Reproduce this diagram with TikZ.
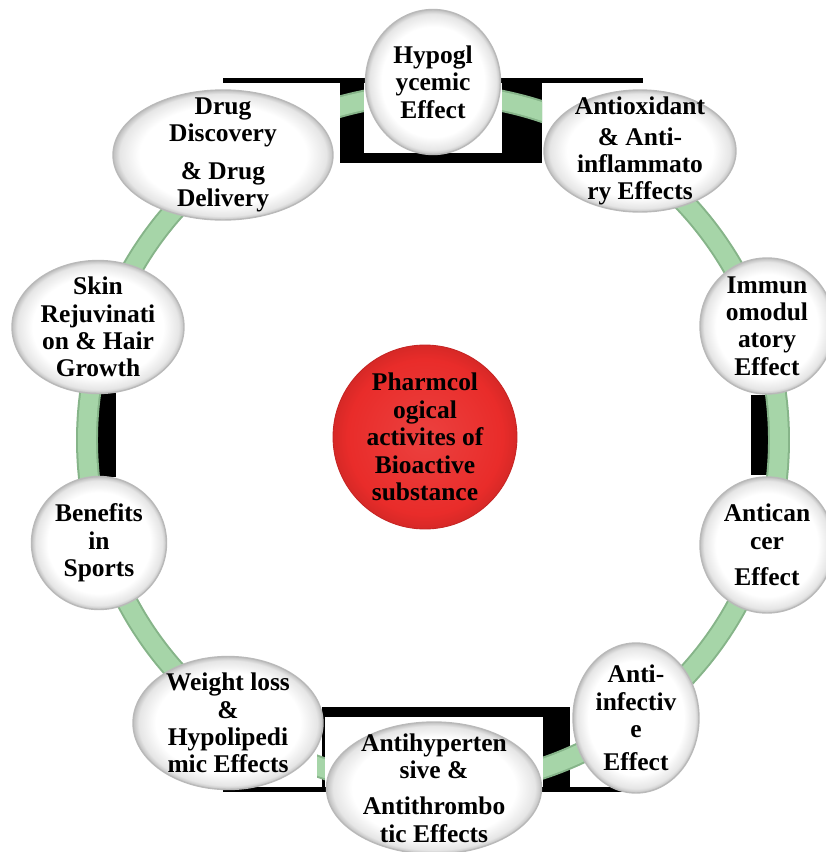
\documentclass[tikz,border=0pt]{standalone}
\usepackage{xcolor}
\usepackage{fontspec}
\setmainfont{Liberation Serif}
\usepackage{tikz}
\usetikzlibrary{shapes.geometric}
\definecolor{ringgreen}{HTML}{A6D5A8}
\definecolor{ringedge}{HTML}{86B489}
\definecolor{hubred}{HTML}{E92C2A}
\pgfdeclareradialshading{bubble}{\pgfpoint{0bp}{0bp}}{color(0bp)=(white); color(19bp)=(white); color(23.5bp)=(gray!20); color(25bp)=(gray!50); color(50bp)=(gray!50)}
\pgfdeclareradialshading{hub}{\pgfpoint{0bp}{0bp}}{color(0bp)=(hubred!90!white); color(21bp)=(hubred); color(25bp)=(hubred!92!black); color(50bp)=(hubred!92!black)}

\begin{document}
\begin{tikzpicture}[x=0.02cm,y=-0.02cm,inner sep=0pt,
  bubble/.style={ellipse,draw=gray!55,line width=0.8pt,shading=bubble,inner xsep=-0.9cm,inner ysep=-0.6cm,align=center,font=\fontsize{14.5}{15.6}\selectfont\bfseries},
  hub/.style={circle,draw=hubred!85!black,line width=0.5pt,shading=hub,align=center,font=\fontsize{14.5}{15.6}\selectfont\bfseries}]
\useasboundingbox (0,0) rectangle (825,852);

\fill (223,78) rectangle (643,83);
\fill (340,78) rectangle (542,163);
\fill (223,787) rectangle (643,792);
\fill (322,707) rectangle (570,792);
\fill (98,393) rectangle (116,477);
\fill (751,395) rectangle (768,475);

\begin{scope}
\clip (340,0) rectangle (542,200) (0,180) rectangle (825,700) (0,700) rectangle (280,852) (317,700) rectangle (825,852);
\draw[ringedge,line width=12.5pt] (433,440) circle[radius=346];
\draw[ringgreen,line width=10.2pt] (433,440) circle[radius=346];
\end{scope}

\fill[white] (364,83) rectangle (502,153);
\fill[white] (325,717) rectangle (543,787);

\node[hub,minimum size=3.68cm] (Hub) at (425,437) {Pharmcol\\ogical\\activites of\\Bioactive\\substance};

\node[bubble,minimum width=2.7cm,minimum height=2.9cm] (Hypo) at (433,82) {Hypogl\\ycemic\\Effect};
\node[bubble,minimum width=3.84cm,minimum height=2.44cm] (Antiox) at (640,151) {Antioxidant\\[2pt]\& Anti-\\inflammato\\ry Effects};
\node[bubble,minimum width=2.68cm,minimum height=2.72cm] (Immuno) at (767,326) {Immun\\omodul\\atory\\Effect};
\node[bubble,minimum width=2.68cm,minimum height=2.72cm] (Cancer) at (767,545) {Antican\\cer\\[5pt]Effect};
\node[bubble,minimum width=2.52cm,minimum height=3cm] (Infect) at (636,718) {Anti-\\infectiv\\e\\[3pt]Effect};
\node[bubble,minimum width=4.3cm,minimum height=2.64cm] (Hyper) at (434,788) {Antihyperten\\sive \&\\[5pt]Antithrombo\\tic Effects};
\node[bubble,minimum width=3.8cm,minimum height=2.66cm] (Weight) at (228,723) {Weight loss\\\&\\Hypolipedi\\mic Effects};
\node[bubble,minimum width=2.7cm,minimum height=2.66cm] (Sports) at (99,543) {Benefits\\in\\Sports};
\node[bubble,minimum width=3.44cm,minimum height=2.66cm] (Skin) at (98,327) {Skin\\Rejuvinati\\on \& Hair\\Growth};
\node[bubble,minimum width=4.4cm,minimum height=2.6cm] (Drug) at (223,155) {Drug\\Discovery\\[6pt]\& Drug\\Delivery};
\end{tikzpicture}
\end{document}
